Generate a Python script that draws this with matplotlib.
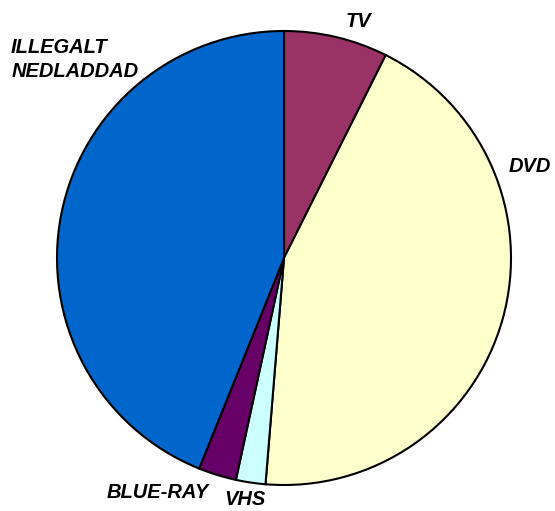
import matplotlib.pyplot as plt

# dane
kategorie = ['TV', 'DVD', 'VHS', 'BLUE-RAY', 'ILLEGALT', 'NEDLADDAD']
udzialy = [7.4, 43.9, 2.1, 2.7, 43.9]
kolory = ['#993366', '#FFFFCC', '#CCFFFF', '#660066', '#0066CC']

fig = plt.figure(figsize=(5.55, 5.11), dpi=100)
ax = fig.add_axes([0, 0, 1, 1])

# wykres kołowy, zgodnie z ruchem wskazówek zegara od góry
ax.pie(udzialy, colors=kolory, startangle=90, counterclock=False,
       center=(284, 253), radius=227, frame=True,
       wedgeprops=dict(edgecolor='black', linewidth=1.5))
ax.set_xlim(0, 555)
ax.set_ylim(0, 511)
ax.set_aspect('equal')
ax.axis('off')

# etykiety
styl = dict(fontfamily='Liberation Sans', fontweight='bold', fontstyle='italic',
            fontsize=14.5, color='black', ha='left', va='baseline')
ax.text(346, 484, kategorie[0], **styl)
ax.text(509, 339, kategorie[1], **styl)
ax.text(224, 6, kategorie[2], **styl)
ax.text(107, 13, kategorie[3], **styl)
ax.text(11, 458, kategorie[4], **styl)
ax.text(12, 434, kategorie[5], **styl)

plt.savefig('out.png', dpi=100)
